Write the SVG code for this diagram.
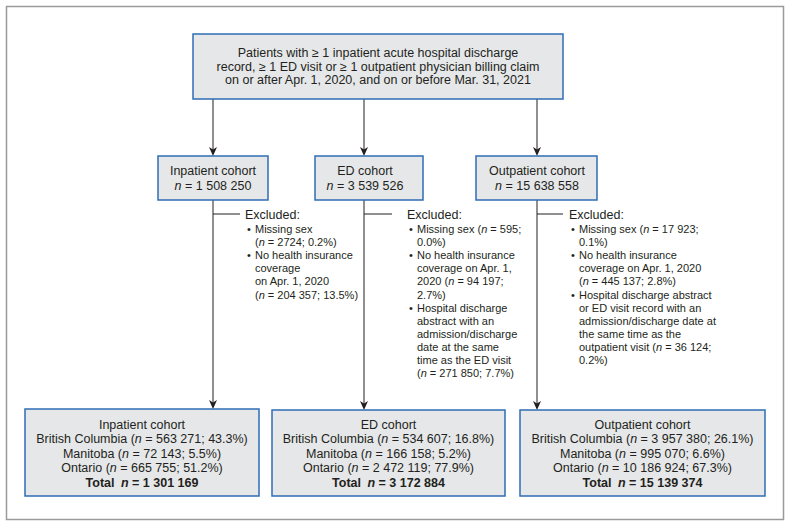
<svg xmlns="http://www.w3.org/2000/svg" width="791" height="527" viewBox="0 0 791 527">
<style>
.box{fill:#e6e7e9;stroke:#2e6db4;stroke-width:1.5}
.t{font-family:"Liberation Sans",Arial,sans-serif;font-size:12.5px;fill:#231f20}
.c{text-anchor:middle}
.s{font-family:"Liberation Sans",Arial,sans-serif;font-size:11px;fill:#231f20}
.b{font-weight:bold}
.i{font-style:italic}
.ln{stroke:#231f20;stroke-width:1;fill:none}
.ah{fill:#231f20}
</style>
<rect x="6.5" y="6.5" width="777" height="513" fill="#fff" stroke="#9a9a9a" stroke-width="1.5"/>

<g id="connectors">
<line class="ln" x1="213" y1="99" x2="213" y2="152"/>
<line class="ln" x1="364" y1="99" x2="364" y2="152"/>
<line class="ln" x1="537" y1="99" x2="537" y2="152"/>
<line class="ln" x1="213" y1="200" x2="213" y2="405"/>
<line class="ln" x1="364" y1="200" x2="364" y2="406"/>
<line class="ln" x1="537" y1="200" x2="537" y2="406"/>
<line class="ln" x1="213" y1="214" x2="240" y2="214"/>
<line class="ln" x1="364" y1="214" x2="392" y2="214"/>
<line class="ln" x1="537" y1="214" x2="563" y2="214"/>
<path class="ah" d="M209,147 L213,149.5 L217,147 L213,156 Z"/>
<path class="ah" d="M360,147 L364,149.5 L368,147 L364,156 Z"/>
<path class="ah" d="M533,147 L537,149.5 L541,147 L537,156 Z"/>
<path class="ah" d="M209,400 L213,402.5 L217,400 L213,409 Z"/>
<path class="ah" d="M360,401 L364,403.5 L368,401 L364,410 Z"/>
<path class="ah" d="M533,401 L537,403.5 L541,401 L537,410 Z"/>
</g>

<g id="top">
<rect class="box" x="193" y="34" width="370" height="65"/>
<text class="t c" x="378" y="57">Patients with ≥ 1 inpatient acute hospital discharge</text>
<text class="t c" x="378" y="70.5">record, ≥ 1 ED visit or ≥ 1 outpatient physician billing claim</text>
<text class="t c" x="378" y="84">on or after Apr. 1, 2020, and on or before Mar. 31, 2021</text>
</g>

<g id="inpatient">
<rect class="box" x="158" y="156" width="110" height="44"/>
<text class="t c" x="213" y="175">Inpatient cohort</text>
<text class="t c" x="213" y="189.5"><tspan class="i">n</tspan> = 1 508 250</text>
</g>
<g id="ed">
<rect class="box" x="315" y="156" width="108" height="44"/>
<text class="t c" x="365" y="175">ED cohort</text>
<text class="t c" x="365" y="189.5"><tspan class="i">n</tspan> = 3 539 526</text>
</g>
<g id="outpatient">
<rect class="box" x="476" y="156" width="121" height="44"/>
<text class="t c" x="537" y="175">Outpatient cohort</text>
<text class="t c" x="537" y="189.5"><tspan class="i">n</tspan> = 15 638 558</text>
</g>

<g id="excl-inpatient">
<text class="t" x="245" y="219">Excluded:</text>
<text class="s" x="247" y="233">•</text>
<text class="s" x="255" y="233">Missing sex</text>
<text class="s" x="255" y="246.1">(<tspan class="i">n</tspan> = 2724; 0.2%)</text>
<text class="s" x="247" y="259.2">•</text>
<text class="s" x="255" y="259.2">No health insurance</text>
<text class="s" x="255" y="272.3">coverage</text>
<text class="s" x="255" y="285.4">on Apr. 1, 2020</text>
<text class="s" x="255" y="298.5">(<tspan class="i">n</tspan> = 204 357; 13.5%)</text>
</g>

<g id="excl-ed">
<text class="t" x="407" y="219">Excluded:</text>
<text class="s" x="409" y="233">•</text>
<text class="s" x="417" y="233">Missing sex (<tspan class="i">n</tspan> = 595;</text>
<text class="s" x="417" y="246.1">0.0%)</text>
<text class="s" x="409" y="259.2">•</text>
<text class="s" x="417" y="259.2">No health insurance</text>
<text class="s" x="417" y="272.3">coverage on Apr. 1,</text>
<text class="s" x="417" y="285.4">2020 (<tspan class="i">n</tspan> = 94 197;</text>
<text class="s" x="417" y="298.5">2.7%)</text>
<text class="s" x="409" y="311.6">•</text>
<text class="s" x="417" y="311.6">Hospital discharge</text>
<text class="s" x="417" y="324.7">abstract with an</text>
<text class="s" x="417" y="337.8">admission/discharge</text>
<text class="s" x="417" y="350.9">date at the same</text>
<text class="s" x="417" y="364">time as the ED visit</text>
<text class="s" x="417" y="377.1">(<tspan class="i">n</tspan> = 271 850; 7.7%)</text>
</g>

<g id="excl-outpatient">
<text class="t" x="569" y="219">Excluded:</text>
<text class="s" x="571" y="233">•</text>
<text class="s" x="579" y="233">Missing sex (<tspan class="i">n</tspan> = 17 923;</text>
<text class="s" x="579" y="246.1">0.1%)</text>
<text class="s" x="571" y="259.2">•</text>
<text class="s" x="579" y="259.2">No health insurance</text>
<text class="s" x="579" y="272.3">coverage on Apr. 1, 2020</text>
<text class="s" x="579" y="285.4">(<tspan class="i">n</tspan> = 445 137; 2.8%)</text>
<text class="s" x="571" y="298.5">•</text>
<text class="s" x="579" y="298.5">Hospital discharge abstract</text>
<text class="s" x="579" y="311.6">or ED visit record with an</text>
<text class="s" x="579" y="324.7">admission/discharge date at</text>
<text class="s" x="579" y="337.8">the same time as the</text>
<text class="s" x="579" y="350.9">outpatient visit (<tspan class="i">n</tspan> = 36 124;</text>
<text class="s" x="579" y="364">0.2%)</text>
</g>

<g id="final-inpatient">
<rect class="box" x="25" y="409" width="234" height="87"/>
<text class="t c" x="142" y="428.5">Inpatient cohort</text>
<text class="t c" x="142" y="443">British Columbia (<tspan class="i">n</tspan> = 563 271; 43.3%)</text>
<text class="t c" x="142" y="457.5">Manitoba (<tspan class="i">n</tspan> = 72 143; 5.5%)</text>
<text class="t c" x="142" y="472">Ontario (<tspan class="i">n</tspan> = 665 755; 51.2%)</text>
<text class="t c b" x="142" y="486.5">Total <tspan class="i" dx="3">n</tspan> = 1 301 169</text>
</g>
<g id="final-ed">
<rect class="box" x="272" y="410" width="233" height="86"/>
<text class="t c" x="388.5" y="428.5">ED cohort</text>
<text class="t c" x="388.5" y="443">British Columbia (<tspan class="i">n</tspan> = 534 607; 16.8%)</text>
<text class="t c" x="388.5" y="457.5">Manitoba (<tspan class="i">n</tspan> = 166 158; 5.2%)</text>
<text class="t c" x="388.5" y="472">Ontario (<tspan class="i">n</tspan> = 2 472 119; 77.9%)</text>
<text class="t c b" x="388.5" y="486.5">Total <tspan class="i" dx="3">n</tspan> = 3 172 884</text>
</g>
<g id="final-outpatient">
<rect class="box" x="520" y="410" width="245" height="86"/>
<text class="t c" x="642.5" y="428.5">Outpatient cohort</text>
<text class="t c" x="642.5" y="443">British Columbia (<tspan class="i">n</tspan> = 3 957 380; 26.1%)</text>
<text class="t c" x="642.5" y="457.5">Manitoba (<tspan class="i">n</tspan> = 995 070; 6.6%)</text>
<text class="t c" x="642.5" y="472">Ontario (<tspan class="i">n</tspan> = 10 186 924; 67.3%)</text>
<text class="t c b" x="642.5" y="486.5">Total <tspan class="i" dx="3">n</tspan> = 15 139 374</text>
</g>
</svg>
